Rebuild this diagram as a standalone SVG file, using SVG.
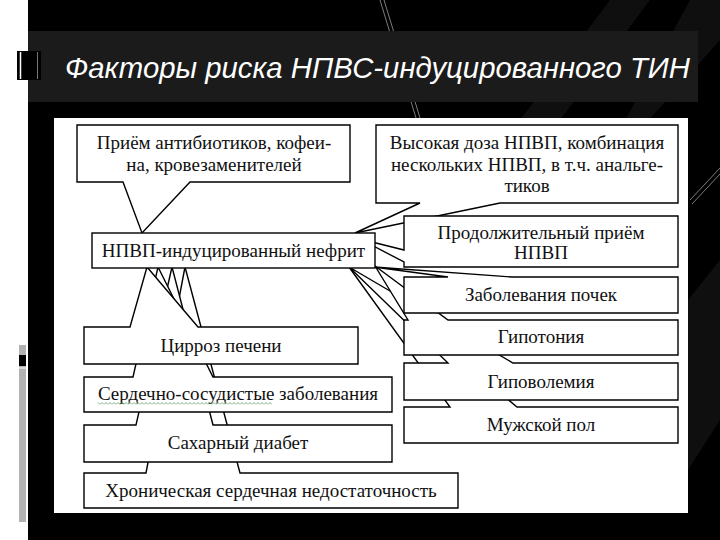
<svg xmlns="http://www.w3.org/2000/svg" width="720" height="540" viewBox="0 0 720 540">
<defs>
<style>
.box{fill:#fff;stroke:#000;stroke-width:1.4;stroke-linejoin:miter}
.t{font-family:"Liberation Sans",Arial,sans-serif;font-size:19px;fill:#111;text-anchor:middle}
.t{font-family:"Liberation Serif","Times New Roman",serif}
.title{font-family:"Liberation Sans",Arial,sans-serif;font-style:italic;font-size:29px;fill:#fff}
.streak{fill:#fff;opacity:0.06}
.thin{stroke:#9a9a9a;stroke-width:0.8;fill:none}
</style>
<pattern id="squiggle" width="4" height="3" patternUnits="userSpaceOnUse">
<path d="M0,2.5 L2,0.5 L4,2.5" stroke="#5f9c5f" stroke-width="0.8" fill="none"/>
</pattern>
</defs>

<!-- slide background -->
<rect x="0" y="0" width="720" height="540" fill="#000"/>
<rect x="0" y="0" width="28" height="540" fill="#fff"/>
<polygon class="streak" points="610,0 650,0 560,120 520,120"/>
<polygon class="streak" points="690,0 720,0 720,40 640,130 620,130"/>
<polygon class="streak" points="688,300 720,260 720,420 688,470"/>
<line class="thin" x1="380" y1="0" x2="416" y2="118"/>
<line class="thin" x1="384" y1="0" x2="420" y2="118"/>
<line class="thin" x1="690" y1="200" x2="720" y2="168"/>
<line class="thin" x1="692" y1="204" x2="720" y2="174"/>

<!-- title band -->
<rect x="28" y="31" width="670" height="71" fill="#1b1b1b"/>
<text class="title" x="65" y="78" textLength="625" lengthAdjust="spacingAndGlyphs">Факторы риска НПВС-индуцированного ТИН</text>

<!-- left decorations -->
<rect x="17" y="51" width="24" height="29" fill="#000"/>
<line x1="20.5" y1="52" x2="20.5" y2="79" stroke="#fff" stroke-width="1.5"/>
<line x1="37.5" y1="52" x2="37.5" y2="79" stroke="#777" stroke-width="1"/>
<rect x="19" y="345" width="7" height="177" fill="#b3b3b3"/>
<rect x="19" y="355" width="7" height="11" fill="#000"/>
<line x1="19" y1="368" x2="26" y2="368" stroke="#fff" stroke-width="1"/>

<!-- image panel -->
<rect x="54" y="118" width="634" height="395" fill="#fff"/>

<g id="connectors"><!-- callout tails are drawn as part of each callout outline --></g>

<!-- left column (bottom first so upper callouts overlap lower tails) -->
<g id="chronic-heart-failure">
<path class="box" d="M84,473 H146 L185,267 L240,473 H458 V508 H84 Z"/>
<text class="t" x="271" y="497">Хроническая сердечная недостаточность</text>
</g>
<g id="diabetes">
<path class="box" d="M84,425 H136 L172,267 L213,425 H392 V462 H84 Z"/>
<text class="t" x="238" y="449">Сахарный диабет</text>
</g>
<g id="cardiovascular">
<path class="box" d="M84,377 H133 L158,267 L213,377 H392 V412 H84 Z"/>
<text class="t" x="238" y="400">Сердечно-сосудистые заболевания</text>
<rect x="98" y="402" width="174" height="3" fill="url(#squiggle)"/>
</g>
<g id="cirrhosis">
<path class="box" d="M84,327 H130 L147,267 L198,327 H358 V364 H84 Z"/>
<text class="t" x="221" y="352">Цирроз печени</text>
</g>

<!-- right column -->
<g id="male-sex">
<path class="box" d="M404,407 H450 L349,267 L517,407 H678 V443 H404 Z"/>
<text class="t" x="541" y="431">Мужской пол</text>
</g>
<g id="hypovolemia">
<path class="box" d="M404,363 H448 L349,267 L513,363 H678 V400 H404 Z"/>
<text class="t" x="541" y="388">Гиповолемия</text>
</g>
<g id="hypotension">
<path class="box" d="M404,320 H408 L375,266 L448,320 H678 V355 H404 Z"/>
<text class="t" x="541" y="343">Гипотония</text>
</g>
<g id="kidney-disease">
<path class="box" d="M404,277 H448 L374,267 L512,277 H678 V313 H404 Z"/>
<text class="t" x="541" y="301">Заболевания почек</text>
</g>
<g id="high-dose">
<path class="box" d="M376,125 H678 V203 H500 L355,233 L420,203 H376 Z"/>
<text class="t" x="527" y="149">Высокая доза НПВП, комбинация</text>
<text class="t" x="527" y="171">нескольких НПВП, в т.ч. анальге-</text>
<text class="t" x="527" y="192">тиков</text>
</g>
<g id="long-term">
<path class="box" d="M404,216 H678 V267 H404 V262 L360,239 L404,250 Z"/>
<text class="t" x="541" y="239">Продолжительный приём</text>
<text class="t" x="541" y="259">НПВП</text>
</g>
<g id="antibiotics">
<path class="box" d="M77,125 H350 V182 H190 L142,233 L123,182 H77 Z"/>
<text class="t" x="214" y="149">Приём антибиотиков, кофеи-</text>
<text class="t" x="214" y="171">на, кровезаменителей</text>
</g>

<!-- central node -->
<g id="nsaid-nephritis">
<rect class="box" x="92" y="233" width="283" height="35"/>
<text class="t" x="233.5" y="257">НПВП-индуцированный нефрит</text>
</g>
</svg>
